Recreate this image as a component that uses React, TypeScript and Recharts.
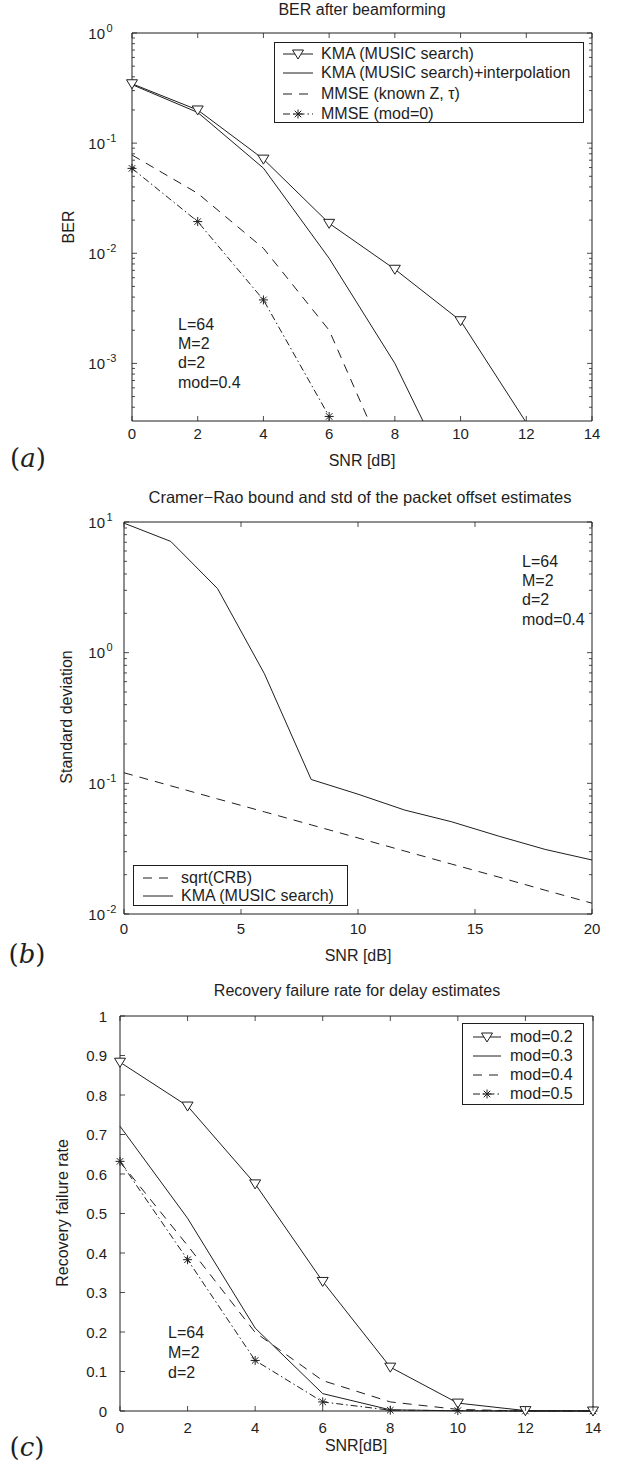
import React from 'react';
import { LineChart, Line, XAxis, YAxis, Legend } from 'recharts';

const FONT = '"Liberation Sans", Arial, Helvetica, sans-serif';
const INK = '#1e1e1e';
const DASH = '9 7';
const DASHDOT = '7 3 1.5 3';

// ---------------- Panel (a): BER after beamforming ----------------
const snrA = [0, 2, 4, 6, 8, 10, 12, 14];
const berKmaMusic = [0.346, 0.2, 0.0716, 0.0187, 0.00716, 0.00244, 0.00029, null];
const berKmaInterp = [0.34, 0.19, 0.0593, 0.009, 0.001, 0.00006, null, null];
const berMmseKnown = [0.078, 0.035, 0.0111, 0.002, 0.000087, null, null, null];
const berMmseMod0 = [0.059, 0.0194, 0.00377, 0.00033, null, null, null, null];
const xTicksA = [0, 2, 4, 6, 8, 10, 12, 14];
const yDomainA = [0.0003, 1];
const yMajorA = [0.001, 0.01, 0.1, 1];
const yMinorA = [
  0.0004, 0.0005, 0.0006, 0.0007, 0.0008, 0.0009,
  0.002, 0.003, 0.004, 0.005, 0.006, 0.007, 0.008, 0.009,
  0.02, 0.03, 0.04, 0.05, 0.06, 0.07, 0.08, 0.09,
  0.2, 0.3, 0.4, 0.5, 0.6, 0.7, 0.8, 0.9,
];
const legendA = [
  { label: 'KMA (MUSIC search)', dash: undefined, marker: 'tri' },
  { label: 'KMA (MUSIC search)+interpolation', dash: undefined, marker: undefined },
  { label: 'MMSE (known Z, \u03c4)', dash: DASH, marker: undefined },
  { label: 'MMSE (mod=0)', dash: DASHDOT, marker: 'star' },
];
const notesA = ['L=64', 'M=2', 'd=2', 'mod=0.4'];

// ---------------- Panel (b): CRB and std ----------------
const snrB = [0, 2, 4, 6, 8, 10, 12, 14, 16, 18, 20];
const stdCrb = [0.1205, 0.0957, 0.076, 0.0605, 0.0481, 0.0382, 0.0303, 0.0241, 0.0192, 0.0152, 0.0121];
const stdKma = [9.8, 7.1, 3.09, 0.69, 0.107, 0.0826, 0.0624, 0.0508, 0.0395, 0.0312, 0.0259];
const xTicksB = [0, 5, 10, 15, 20];
const yDomainB = [0.01, 10];
const yMajorB = [0.01, 0.1, 1, 10];
const yMinorB = [
  0.02, 0.03, 0.04, 0.05, 0.06, 0.07, 0.08, 0.09,
  0.2, 0.3, 0.4, 0.5, 0.6, 0.7, 0.8, 0.9,
  2, 3, 4, 5, 6, 7, 8, 9,
];
const legendB = [
  { label: 'sqrt(CRB)', dash: DASH, marker: undefined },
  { label: 'KMA (MUSIC search)', dash: undefined, marker: undefined },
];
const notesB = ['L=64', 'M=2', 'd=2', 'mod=0.4'];

// ---------------- Panel (c): Recovery failure rate ----------------
const snrC = [0, 2, 4, 6, 8, 10, 12, 14];
const failMod02 = [0.883, 0.772, 0.575, 0.328, 0.111, 0.02, 0.001, 0];
const failMod03 = [0.721, 0.488, 0.21, 0.044, 0.003, 0.0005, 0, 0];
const failMod04 = [0.631, 0.419, 0.199, 0.077, 0.023, 0.004, 0, 0];
const failMod05 = [0.632, 0.383, 0.128, 0.023, 0.002, 0.001, 0, 0];
const xTicksC = [0, 2, 4, 6, 8, 10, 12, 14];
const yTicksC = [0, 0.1, 0.2, 0.3, 0.4, 0.5, 0.6, 0.7, 0.8, 0.9, 1];
const legendC = [
  { label: 'mod=0.2', dash: undefined, marker: 'tri' },
  { label: 'mod=0.3', dash: undefined, marker: undefined },
  { label: 'mod=0.4', dash: DASH, marker: undefined },
  { label: 'mod=0.5', dash: DASHDOT, marker: 'star' },
];
const notesC = ['L=64', 'M=2', 'd=2'];

const dataA = snrA.map((x, i) => ({
  x,
  kma: berKmaMusic[i],
  interp: berKmaInterp[i],
  known: berMmseKnown[i],
  mod0: berMmseMod0[i],
}));
const dataB = snrB.map((x, i) => ({ x, crb: stdCrb[i], kma: stdKma[i] }));
const dataC = snrC.map((x, i) => ({
  x,
  m2: failMod02[i],
  m3: failMod03[i],
  m4: failMod04[i],
  m5: failMod05[i],
}));

const MAJOR = 5;
const MINOR = 3;
const TICK_FS = 15;

const isIn = (v: number, arr: number[]) =>
  arr.some((m) => Math.abs(m - v) <= Math.abs(m) * 1e-6 + 1e-12);

// ---------- markers ----------
function triShape(cx: number, cy: number, key?: any) {
  return (
    <path
      key={key}
      d={`M${cx - 5.5},${cy - 4}L${cx + 5.5},${cy - 4}L${cx},${cy + 5}Z`}
      fill="#fff"
      stroke={INK}
      strokeWidth={1}
    />
  );
}
function starShape(cx: number, cy: number, key?: any) {
  const r = 4.5;
  const d = r * 0.72;
  return (
    <path
      key={key}
      d={`M${cx - r},${cy}H${cx + r}M${cx},${cy - r}V${cy + r}M${cx - d},${cy - d}L${cx + d},${cy + d}M${cx - d},${cy + d}L${cx + d},${cy - d}`}
      stroke={INK}
      strokeWidth={1}
      fill="none"
    />
  );
}
const makeDot = (kind: 'tri' | 'star', min: number) => (p: any) => {
  const { cx, cy, value, index } = p;
  const k = `d${index}`;
  if (cx == null || cy == null || value == null || value < min) return <g key={k} />;
  return kind === 'tri' ? triShape(cx, cy, k) : starShape(cx, cy, k);
};

// ---------- ticks ----------
const leftLogTick = (majors: number[], baseGap: number) => (p: any) => {
  const { x, y, payload } = p;
  const v = payload.value;
  const major = isIn(v, majors);
  const exp = Math.round(Math.log10(v));
  return (
    <g>
      <line x1={x} x2={x + (major ? MAJOR : MINOR)} y1={y} y2={y} stroke={INK} strokeWidth={0.8} />
      {major && (
        <text x={x - baseGap} y={y + 5.5} fontFamily={FONT} fontSize={TICK_FS} fill={INK} textAnchor="end">
          10
        </text>
      )}
      {major && (
        <text x={x - baseGap + 1.5} y={y - 1.5} fontFamily={FONT} fontSize={11} fill={INK} textAnchor="start">
          {String(exp)}
        </text>
      )}
    </g>
  );
};
const rightLogTick = (majors: number[]) => (p: any) => {
  const { x, y, payload } = p;
  const major = isIn(payload.value, majors);
  return <line x1={x} x2={x - (major ? MAJOR : MINOR)} y1={y} y2={y} stroke={INK} strokeWidth={0.8} />;
};
const leftLinTick = (gap: number) => (p: any) => {
  const { x, y, payload } = p;
  return (
    <g>
      <line x1={x} x2={x + MAJOR} y1={y} y2={y} stroke={INK} strokeWidth={0.8} />
      <text x={x - gap} y={y + 5.5} fontFamily={FONT} fontSize={TICK_FS} fill={INK} textAnchor="end">
        {String(payload.value)}
      </text>
    </g>
  );
};
const rightLinTick = (p: any) => {
  const { x, y } = p;
  return <line x1={x} x2={x - MAJOR} y1={y} y2={y} stroke={INK} strokeWidth={0.8} />;
};
const bottomTick = (gap: number) => (p: any) => {
  const { x, y, payload } = p;
  return (
    <g>
      <line x1={x} x2={x} y1={y} y2={y - MAJOR} stroke={INK} strokeWidth={0.8} />
      <text x={x} y={y + gap + 11} fontFamily={FONT} fontSize={TICK_FS} fill={INK} textAnchor="middle">
        {String(payload.value)}
      </text>
    </g>
  );
};
const topTick = (p: any) => {
  const { x, y } = p;
  return <line x1={x} x2={x} y1={y} y2={y + MAJOR} stroke={INK} strokeWidth={0.8} />;
};

const axisCommon = {
  tickSize: 0,
  tickMargin: 0,
  tickLine: false,
  interval: 0 as const,
  axisLine: { stroke: INK, strokeWidth: 1 },
};

// ---------- legend ----------
type LegendItem = { label: string; dash?: string; marker?: string };
function LegendBox({
  items,
  width,
  height,
  rows,
  sample,
  textX,
}: {
  items: LegendItem[];
  width: number;
  height: number;
  rows: number[];
  sample: [number, number];
  textX: number;
}) {
  return (
    <div
      style={{
        width,
        height,
        border: `1px solid ${INK}`,
        background: '#fff',
        position: 'relative',
        boxSizing: 'border-box',
      }}
    >
      {items.map((it, i) => {
        const mid = (sample[0] + sample[1]) / 2;
        return (
          <div key={i} style={{ position: 'absolute', left: 0, top: rows[i] - 10, height: 20, width: '100%' }}>
            <svg width={textX} height={20} style={{ position: 'absolute', left: 0, top: 0 }}>
              <line x1={sample[0]} x2={sample[1]} y1={10} y2={10} stroke={INK} strokeWidth={1} strokeDasharray={it.dash} />
              {it.marker === 'tri' && triShape(mid, 10)}
              {it.marker === 'star' && starShape(mid, 10)}
            </svg>
            <span
              style={{
                position: 'absolute',
                left: textX,
                top: 0,
                lineHeight: '20px',
                fontSize: 16,
                fontFamily: FONT,
                color: INK,
                whiteSpace: 'nowrap',
              }}
            >
              {it.label}
            </span>
          </div>
        );
      })}
    </div>
  );
}

// ---------- text overlays ----------
function T({
  x,
  y,
  children,
  anchor = 'middle',
  size = 16,
  rotate = false,
  serif = false,
}: {
  x: number;
  y: number;
  children: React.ReactNode;
  anchor?: 'middle' | 'start';
  size?: number;
  rotate?: boolean;
  serif?: boolean;
}) {
  const tx = anchor === 'middle' ? '-50%' : '0';
  return (
    <div
      style={{
        position: 'absolute',
        left: x,
        top: y,
        transform: `translate(${tx}, -50%)${rotate ? ' rotate(-90deg)' : ''}`,
        transformOrigin: anchor === 'middle' ? 'center' : 'left center',
        fontFamily: serif ? '"DejaVu Serif", "Liberation Serif", serif' : FONT,
        fontSize: size,
        lineHeight: 1,
        color: INK,
        whiteSpace: 'nowrap',
      }}
    >
      {children}
    </div>
  );
}
function Notes({ x, ys, lines }: { x: number; ys: number[]; lines: string[] }) {
  return (
    <>
      {lines.map((l, i) => (
        <T key={i} x={x} y={ys[i]} anchor="start">
          {l}
        </T>
      ))}
    </>
  );
}
function PanelTag({ x, y, letter }: { x: number; y: number; letter: string }) {
  return (
    <T x={x} y={y} size={26} serif>
      (<span style={{ fontStyle: 'italic' }}>{letter}</span>)
    </T>
  );
}

export default function App() {
  return (
    <div
      style={{
        position: 'absolute',
        left: 0,
        top: 0,
        width: 626,
        height: 1467,
        background: '#fff',
        overflow: 'hidden',
      }}
    >
      {/* ---------- Panel (a) ---------- */}
      <div style={{ position: 'absolute', left: 0, top: 0 }}>
        <LineChart width={626} height={480} data={dataA} margin={{ top: 32, right: 33, bottom: 58, left: 131 }} style={{ fontFamily: FONT }}>
          <XAxis dataKey="x" type="number" domain={[0, 14]} ticks={xTicksA} height={1} tick={bottomTick(7)} {...axisCommon} />
          <XAxis xAxisId="top" orientation="top" dataKey="x" type="number" domain={[0, 14]} ticks={xTicksA} height={1} tick={topTick} {...axisCommon} />
          <YAxis type="number" scale="log" domain={yDomainA} allowDataOverflow ticks={[...yMinorA, ...yMajorA]} width={1} tick={leftLogTick(yMajorA, 27)} {...axisCommon} />
          <YAxis yAxisId="right" orientation="right" type="number" scale="log" domain={yDomainA} allowDataOverflow ticks={[...yMinorA, ...yMajorA]} width={1} tick={rightLogTick(yMajorA)} {...axisCommon} />
          <Line dataKey="interp" type="linear" stroke={INK} strokeWidth={1} dot={false} isAnimationActive={false} />
          <Line dataKey="known" type="linear" stroke={INK} strokeWidth={1} strokeDasharray={DASH} dot={false} isAnimationActive={false} />
          <Line dataKey="mod0" type="linear" stroke={INK} strokeWidth={1} strokeDasharray={DASHDOT} dot={makeDot('star', yDomainA[0])} isAnimationActive={false} />
          <Line dataKey="kma" type="linear" stroke={INK} strokeWidth={1} dot={makeDot('tri', yDomainA[0])} isAnimationActive={false} />
          <Legend
            layout="horizontal"
            verticalAlign="middle"
            align="center"
            wrapperStyle={{ left: 274, top: 42, width: 310, height: 81 }}
            content={() => <LegendBox items={legendA} width={310} height={81} rows={[11, 30, 51, 71]} sample={[8, 38]} textX={46} />}
          />
        </LineChart>
      </div>

      {/* ---------- Panel (b) ---------- */}
      <div style={{ position: 'absolute', left: 0, top: 440 }}>
        <LineChart width={626} height={520} data={dataB} margin={{ top: 81, right: 33, bottom: 45, left: 123 }} style={{ fontFamily: FONT }}>
          <XAxis dataKey="x" type="number" domain={[0, 20]} ticks={xTicksB} height={1} tick={bottomTick(9)} {...axisCommon} />
          <XAxis xAxisId="top" orientation="top" dataKey="x" type="number" domain={[0, 20]} ticks={xTicksB} height={1} tick={topTick} {...axisCommon} />
          <YAxis type="number" scale="log" domain={yDomainB} allowDataOverflow ticks={[...yMinorB, ...yMajorB]} width={1} tick={leftLogTick(yMajorB, 19)} {...axisCommon} />
          <YAxis yAxisId="right" orientation="right" type="number" scale="log" domain={yDomainB} allowDataOverflow ticks={[...yMinorB, ...yMajorB]} width={1} tick={rightLogTick(yMajorB)} {...axisCommon} />
          <Line dataKey="crb" type="linear" stroke={INK} strokeWidth={1} strokeDasharray={DASH} dot={false} isAnimationActive={false} />
          <Line dataKey="kma" type="linear" stroke={INK} strokeWidth={1} dot={false} isAnimationActive={false} />
          <Legend
            layout="horizontal"
            verticalAlign="middle"
            align="center"
            wrapperStyle={{ left: 133, top: 425, width: 215, height: 41 }}
            content={() => <LegendBox items={legendB} width={215} height={41} rows={[12, 30]} sample={[9, 39]} textX={47} />}
          />
        </LineChart>
      </div>

      {/* ---------- Panel (c) ---------- */}
      <div style={{ position: 'absolute', left: 0, top: 960 }}>
        <LineChart width={626} height={507} data={dataC} margin={{ top: 55, right: 32, bottom: 55, left: 119 }} style={{ fontFamily: FONT }}>
          <XAxis dataKey="x" type="number" domain={[0, 14]} ticks={xTicksC} height={1} tick={bottomTick(11)} {...axisCommon} />
          <XAxis xAxisId="top" orientation="top" dataKey="x" type="number" domain={[0, 14]} ticks={xTicksC} height={1} tick={topTick} {...axisCommon} />
          <YAxis type="number" domain={[0, 1]} ticks={yTicksC} width={1} tick={leftLinTick(13)} {...axisCommon} />
          <YAxis yAxisId="right" orientation="right" type="number" domain={[0, 1]} ticks={yTicksC} width={1} tick={rightLinTick} {...axisCommon} />
          <Line dataKey="m3" type="linear" stroke={INK} strokeWidth={1} dot={false} isAnimationActive={false} />
          <Line dataKey="m4" type="linear" stroke={INK} strokeWidth={1} strokeDasharray={DASH} dot={false} isAnimationActive={false} />
          <Line dataKey="m5" type="linear" stroke={INK} strokeWidth={1} strokeDasharray={DASHDOT} dot={makeDot('star', -1)} isAnimationActive={false} />
          <Line dataKey="m2" type="linear" stroke={INK} strokeWidth={1} dot={makeDot('tri', -1)} isAnimationActive={false} />
          <Legend
            layout="horizontal"
            verticalAlign="middle"
            align="center"
            wrapperStyle={{ left: 462, top: 63, width: 122, height: 82 }}
            content={() => <LegendBox items={legendC} width={122} height={82} rows={[13, 32, 51, 70]} sample={[10, 38]} textX={47} />}
          />
        </LineChart>
      </div>

      {/* ---------- text ---------- */}
      <T x={362} y={10}>BER after beamforming</T>
      <T x={362} y={461}>SNR [dB]</T>
      <T x={69} y={227} rotate>BER</T>
      <Notes x={178} ys={[325, 344, 363, 383]} lines={notesA} />
      <PanelTag x={28} y={458} letter="a" />

      <T x={360} y={497} size={16.5}>Cramer−Rao bound and std of the packet offset estimates</T>
      <T x={358} y={956}>SNR [dB]</T>
      <T x={67} y={717} rotate>Standard deviation</T>
      <Notes x={522} ys={[562, 581, 600, 620]} lines={notesB} />
      <PanelTag x={27} y={954} letter="b" />

      <T x={357} y={991}>Recovery failure rate for delay estimates</T>
      <T x={356} y={1446}>SNR[dB]</T>
      <T x={63} y={1213} rotate>Recovery failure rate</T>
      <Notes x={168} ys={[1333, 1353, 1373]} lines={notesC} />
      <PanelTag x={27} y={1447} letter="c" />
    </div>
  );
}
